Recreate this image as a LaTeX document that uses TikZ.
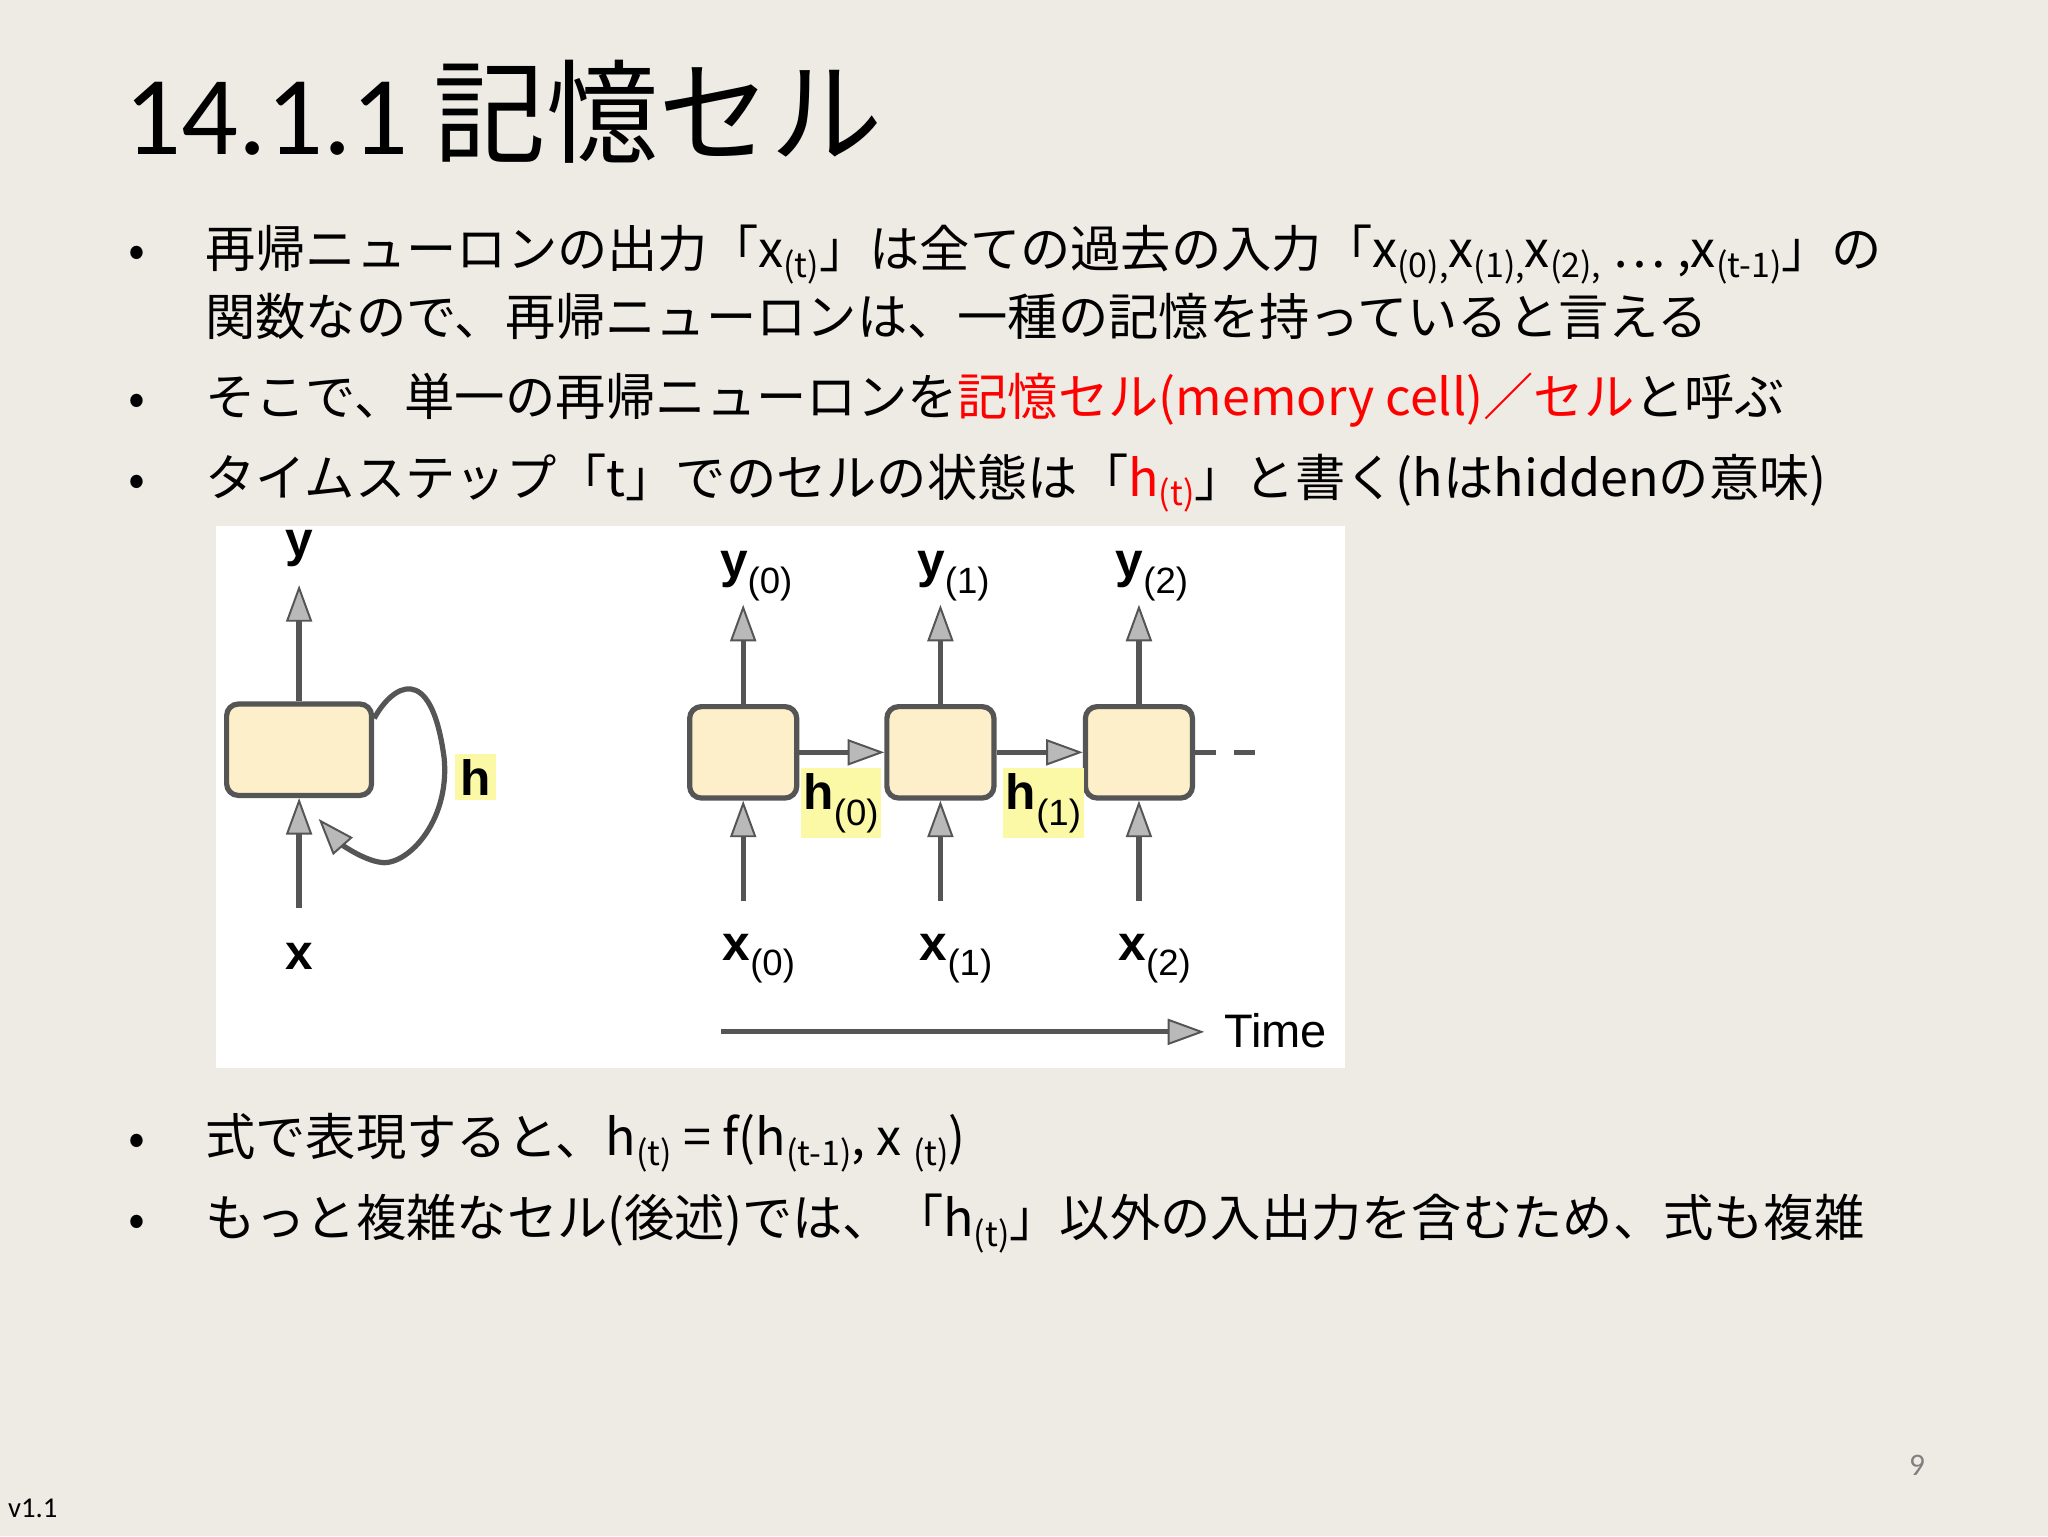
\documentclass[tikz,border=0pt]{standalone}
\usepackage{fontspec}
\usetikzlibrary{arrows.meta}
\setmainfont{Noto Sans CJK JP}
\newfontfamily\calfont{Carlito}
\newfontfamily\ars{Liberation Sans}
\newcommand{\subs}[1]{\raisebox{-0.35ex}{\fontsize{26}{26}\selectfont #1}}
\newcommand{\dsub}[1]{\raisebox{-0.6ex}{\fontsize{28}{28}\selectfont\mdseries #1}}
\definecolor{bg}{HTML}{EEEBE4}
\definecolor{cellc}{HTML}{FCEFC9}
\definecolor{hl}{HTML}{FBF8A6}
\definecolor{ln}{HTML}{555555}
\tikzset{
 body/.style={anchor=base west,inner sep=0,font=\fontsize{38.5}{38}\selectfont},
 dot/.style={anchor=base,inner sep=0,font=\fontsize{38}{38}\selectfont},
 cell/.style={draw=ln,line width=4pt,fill=cellc,rounded corners=9pt,minimum width=#1,minimum height=70pt},
 arr/.style={draw=ln,line width=4pt,-{Triangle[width=20pt,length=28pt,fill=gray!55,line width=1.5pt]}},
 lab/.style={inner sep=0,font=\ars\bfseries\fontsize{38}{38}\selectfont},
 hbox/.style={fill=hl,inner sep=4pt,font=\ars\bfseries\fontsize{38}{38}\selectfont}
}
\begin{document}
\begin{tikzpicture}[x=1pt,y=-1pt]
\fill[bg] (0,0) rectangle (1568,1176);
\useasboundingbox (0,0) rectangle (1568,1176);
\node[anchor=base west,inner sep=0,font=\fontsize{86}{86}\selectfont] (title) at (95,118) {{\calfont 14.1.1} 記憶セル};
\foreach \y/\n in {205/b1,318/b2,380/b3,885/b4,947/b5}{\node[dot] (\n) at (105,\y) {•};}
\node[body] (t1) at (157,205) {再帰ニューロンの出力「x\subs{(t)}」は全ての過去の入力「x\subs{(0),}x\subs{(1),}x\subs{(2),} … ,x\subs{(t-1)}」の};
\node[body] (t1b) at (157,257) {関数なので、再帰ニューロンは、一種の記憶を持っていると言える};
\node[body] (t2) at (157,318) {そこで、単一の再帰ニューロンを\textcolor{red}{記憶セル(memory cell)／セル}と呼ぶ};
\node[body] (t3) at (157,380) {タイムステップ「t」でのセルの状態は「\textcolor{red}{h\subs{(t)}}」と書く(hはhiddenの意味)};
\node[body] (t4) at (157,885) {式で表現すると、h\subs{(t)} = f(h\subs{(t-1)}, x \subs{(t)})};
\node[body] (t5) at (157,947) {もっと複雑なセル(後述)では、「h\subs{(t)}」以外の入出力を含むため、式も複雑};
\fill[white] (165,403) rectangle (1030,818);
% left
\node[cell=111pt] (c) at (229,574) {};
\node[lab] (ly) at (229,420) {y};
\node[lab] (lx) at (229,732) {x};
\coordinate (lin) at (229,695);
\draw[arr] (c.north) -- (229,448);
\draw[arr] (lin) -- (c.south);
\draw[arr] (c.east|-0,550) .. controls (300,525) and (330,505) .. (340,580) .. controls (345,630) and (310,665) .. (290,660) .. controls (275,657) and (260,645) .. (244,627);
\node[hbox] (lh) at (364,595) {h};
% right
\foreach \i/\x in {0/569,1/720,2/872}{
 \node[cell=82pt] (c\i) at (\x,576) {};
 \node[lab,anchor=base] (y\i) at (\x+10,442) {y\dsub{(\i)}};
 \node[lab,anchor=base] (x\i) at (\x+12,735) {x\dsub{(\i)}};
 \coordinate (i\i) at (\x,690);
 \draw[arr] (c\i.north) -- (\x,463);
 \draw[arr] (i\i) -- (c\i.south);
}
\draw[arr] (c0.east) -- (c1.west);
\draw[arr] (c1.east) -- (c2.west);
\coordinate (dend) at (966,576);
\draw[ln,line width=4pt,dash pattern=on 16pt off 14pt] (c2.east) -- (dend);
\node[hbox,anchor=north west,inner xsep=2pt] (h0) at (613,588) {h\dsub{(0)}};
\node[hbox,anchor=north west,inner xsep=2pt] (h1) at (768,588) {h\dsub{(1)}};
\coordinate (ts) at (552,790);
\coordinate (te) at (922,790);
\draw[arr] (ts) -- (te);
\node[anchor=west,inner sep=0,font=\ars\fontsize{36}{36}\selectfont] (time) at (937,789) {Time};
\node[anchor=base east,inner sep=0,text=gray,font=\calfont\fontsize{24}{24}\selectfont] (pg) at (1474,1130) {9};
\node[anchor=base west,inner sep=0,font=\calfont\fontsize{22}{22}\selectfont] (ver) at (6,1162) {v1.1};
\end{tikzpicture}
\end{document}
